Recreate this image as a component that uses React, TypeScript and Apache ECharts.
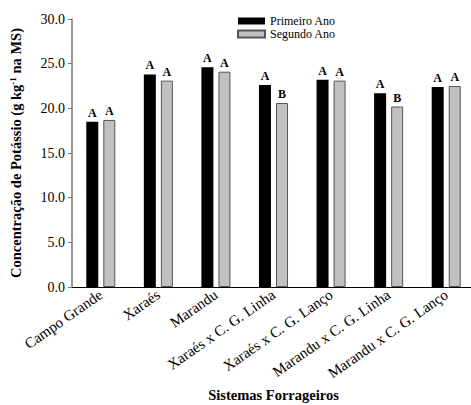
import React, { useEffect, useRef } from "react";
import * as echarts from "echarts";

const categories = [
  "Campo Grande",
  "Xaraés",
  "Marandu",
  "Xaraés x C. G. Linha",
  "Xaraés x C. G. Lanço",
  "Marandu x C. G. Linha",
  "Marandu x C. G. Lanço",
];
const primeiroAno = [18.5, 23.8, 24.6, 22.6, 23.2, 21.7, 22.4];
const segundoAno = [18.7, 23.1, 24.1, 20.6, 23.1, 20.2, 22.5];
const letrasPrimeiro = ["A", "A", "A", "A", "A", "A", "A"];
const letrasSegundo = ["A", "A", "A", "B", "A", "B", "A"];

const FONT = "Liberation Serif";

export default function App() {
  const ref = useRef<HTMLDivElement>(null);
  useEffect(() => {
    if (!ref.current) return;
    const chart = echarts.init(ref.current, undefined, { renderer: "svg" });
    const labelStyle = (letters: string[]) => ({
      show: true,
      position: "top",
      distance: 3,
      fontFamily: FONT,
      fontWeight: "bold",
      fontSize: 12,
      color: "#000",
      formatter: (p: any) => letters[p.dataIndex],
    });
    chart.setOption({
      animation: false,
      backgroundColor: "#fff",
      textStyle: { fontFamily: FONT },
      legend: {
        orient: "vertical",
        left: 237,
        top: 15,
        padding: 0,
        itemWidth: 27,
        itemHeight: 7,
        itemGap: 1,
        icon: "rect",
        textStyle: { fontFamily: FONT, fontSize: 12, color: "#000" },
        data: ["Primeiro Ano", "Segundo Ano"],
      },
      grid: { left: 72, right: -4, top: 19, bottom: 118, containLabel: false, outerBoundsMode: "none" },
      xAxis: {
        type: "category",
        data: categories,
        name: "Sistemas Forrageiros",
        nameLocation: "middle",
        nameGap: 100,
        nameTextStyle: { fontFamily: FONT, fontWeight: "bold", fontSize: 14.5, color: "#000" },
        axisLine: { lineStyle: { color: "#000", width: 1 } },
        axisTick: { alignWithLabel: true, length: 4, lineStyle: { color: "#000" } },
        axisLabel: { rotate: 35, fontFamily: FONT, fontSize: 15, color: "#000", margin: 6, interval: 0 },
      },
      yAxis: {
        type: "value",
        min: 0,
        max: 30,
        interval: 5,
        name: "Concentração de Potássio (g kg{sup|-1} na MS)",
        nameLocation: "middle",
        nameGap: 48,
        nameTextStyle: {
          fontFamily: FONT,
          fontWeight: "bold",
          fontSize: 14.5,
          color: "#000",
          rich: {
            sup: { fontFamily: FONT, fontWeight: "bold", fontSize: 9, verticalAlign: "top", padding: [0, 0, 7, 0], color: "#000" },
          },
        },
        splitLine: { show: false },
        axisLine: { show: true, lineStyle: { color: "#777", width: 1.5 } },
        axisTick: { show: true, length: 4, lineStyle: { color: "#777" } },
        axisLabel: {
          fontFamily: FONT,
          fontSize: 14,
          color: "#000",
          margin: 7,
          formatter: (v: number) => v.toFixed(1),
        },
      },
      series: [
        {
          name: "Primeiro Ano",
          type: "bar",
          data: primeiroAno,
          barWidth: 12,
          barGap: "42%",
          itemStyle: { color: "#000" },
          label: labelStyle(letrasPrimeiro),
        },
        {
          name: "Segundo Ano",
          type: "bar",
          data: segundoAno,
          barWidth: 12,
          itemStyle: { color: "#c0c0c0", borderColor: "#555", borderWidth: 1 },
          label: labelStyle(letrasSegundo),
        },
      ],
    });
    return () => chart.dispose();
  }, []);
  return <div ref={ref} style={{ width: 471, height: 405, position: "absolute", left: 0, top: 0 }} />;
}
